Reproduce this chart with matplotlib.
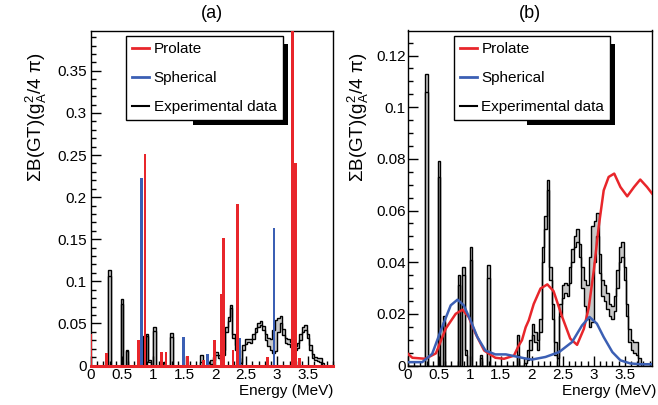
import numpy as np
import matplotlib
matplotlib.use('Agg')
import matplotlib.pyplot as plt
from matplotlib.ticker import MultipleLocator, FuncFormatter
from matplotlib.patches import Rectangle
from matplotlib.lines import Line2D

plt.rcParams['font.family'] = ['Liberation Sans', 'DejaVu Sans']
plt.rcParams['mathtext.fontset'] = 'custom'
plt.rcParams['mathtext.rm'] = 'Liberation Sans'
plt.rcParams['mathtext.it'] = 'Liberation Sans:italic'

RED = '#e8262b'
BLUE = '#3b5fb4'
GRAY = '#c8c8c8'

# experimental B(GT), 0.04 MeV bins: left edge, lower and upper bound
bin_width = 0.04
exp_left = [0.28, 0.48, 0.56, 0.80, 0.88, 0.92, 1.00, 1.16, 1.28, 1.76,
            1.88, 1.92, 1.96, 2.00, 2.04, 2.08, 2.12, 2.16, 2.20, 2.24,
            2.28, 2.32, 2.36, 2.40, 2.44, 2.48, 2.52, 2.56, 2.60, 2.64,
            2.68, 2.72, 2.76, 2.80, 2.84, 2.88, 2.92, 2.96, 3.00, 3.04,
            3.08, 3.12, 3.16, 3.20, 3.24, 3.28, 3.32, 3.36, 3.40, 3.44,
            3.48, 3.52, 3.56, 3.60, 3.64, 3.68, 3.72]
exp_low = [0.106, 0.073, 0.017, 0.031, 0.035, 0.004, 0.041, 0.003, 0.034, 0.004,
           0.001, 0.002, 0.006, 0.012, 0.009, 0.006, 0.013, 0.040, 0.053, 0.068,
           0.033, 0.018, 0.004, 0.000, 0.019, 0.026, 0.028, 0.027, 0.032, 0.040,
           0.046, 0.048, 0.042, 0.030, 0.023, 0.018, 0.015, 0.017, 0.040, 0.050,
           0.036, 0.027, 0.025, 0.022, 0.019, 0.018, 0.021, 0.030, 0.040, 0.042,
           0.033, 0.019, 0.009, 0.006, 0.005, 0.004, 0.000]
exp_high = [0.113, 0.079, 0.019, 0.035, 0.038, 0.006, 0.046, 0.004, 0.039, 0.012,
            0.003, 0.006, 0.010, 0.016, 0.013, 0.010, 0.018, 0.046, 0.058, 0.072,
            0.038, 0.024, 0.009, 0.003, 0.024, 0.031, 0.032, 0.031, 0.038, 0.045,
            0.050, 0.053, 0.047, 0.038, 0.033, 0.031, 0.042, 0.054, 0.056, 0.059,
            0.043, 0.033, 0.031, 0.028, 0.024, 0.023, 0.027, 0.037, 0.046, 0.048,
            0.038, 0.024, 0.014, 0.010, 0.009, 0.009, 0.003]

# (a) discrete strengths
prolate_E = [0.00, 0.25, 0.76, 0.87, 1.14, 1.21, 1.55, 1.81, 1.99, 2.10,
             2.14, 2.29, 2.36, 2.85, 3.25, 3.29, 3.36]
prolate_B = [0.037, 0.015, 0.030, 0.251, 0.016, 0.016, 0.011, 0.006, 0.030, 0.085,
             0.151, 0.018, 0.192, 0.010, 0.45, 0.241, 0.009]
spherical_E = [0.81, 1.49, 1.88, 2.40, 2.95]
spherical_B = [0.223, 0.034, 0.014, 0.033, 0.163]

# (b) folded strengths
prolate_curve_E = [0.00, 0.07, 0.28, 0.45, 0.61, 0.77, 0.88, 0.98, 1.09, 1.23,
                   1.41, 1.55, 1.71, 1.79, 1.84, 1.90, 1.95, 2.03, 2.14, 2.25,
                   2.35, 2.49, 2.62, 2.73, 2.84, 2.92, 3.00, 3.08, 3.16, 3.24,
                   3.33, 3.43, 3.54, 3.65, 3.75, 3.86, 3.94]
prolate_curve_B = [0.0045, 0.0030, 0.0026, 0.0047, 0.0143, 0.0200, 0.0216, 0.0188, 0.0124, 0.0058,
                   0.0030, 0.0026, 0.0038, 0.0078, 0.0098, 0.0148, 0.0175, 0.0238, 0.0298, 0.0314,
                   0.0288, 0.0188, 0.0104, 0.0080, 0.0142, 0.0226, 0.0368, 0.0538, 0.0678, 0.0730,
                   0.0743, 0.0691, 0.0655, 0.0691, 0.0720, 0.0691, 0.0666]
spherical_curve_E = [0.00, 0.23, 0.39, 0.55, 0.69, 0.80, 0.90, 1.01, 1.12, 1.25,
                     1.41, 1.58, 1.74, 1.92, 2.00, 2.22, 2.44, 2.65, 2.81, 2.93,
                     3.05, 3.16, 3.30, 3.43, 3.59, 3.75, 3.94]
spherical_curve_B = [0.0013, 0.0013, 0.0045, 0.0148, 0.0233, 0.0255, 0.0233, 0.0175, 0.0110, 0.0058,
                     0.0043, 0.0043, 0.0035, 0.0026, 0.0023, 0.0033, 0.0052, 0.0091, 0.0155, 0.0188,
                     0.0162, 0.0110, 0.0052, 0.0020, 0.0008, 0.0005, 0.0005]

W, H = 658, 405
fig = plt.figure(figsize=(W / 100, H / 100), dpi=100)


def px_axes(l, t, r, b):
    return fig.add_axes([l / W, 1 - b / H, (r - l) / W, (b - t) / H])


def fmt_g(v, pos):
    return '%g' % round(v, 4)


def draw_exp(ax):
    edges = np.arange(0, 4.0 + 1e-9, bin_width)
    idx = np.rint(np.array(exp_left) / bin_width).astype(int)
    lo = np.zeros(len(edges) - 1)
    hi = np.zeros(len(edges) - 1)
    lo[idx] = exp_low
    hi[idx] = exp_high
    ax.fill_between(edges, np.append(lo, lo[-1]), np.append(hi, hi[-1]),
                    step='post', color=GRAY, lw=0, zorder=2)
    ax.stairs(hi, edges, color='k', lw=1.0, zorder=3)
    ax.stairs(lo, edges, color='k', lw=1.0, zorder=3)


def style_axes(ax, ymajor, yminor, ypad):
    ax.xaxis.set_major_locator(MultipleLocator(0.5))
    ax.xaxis.set_minor_locator(MultipleLocator(0.1))
    ax.yaxis.set_major_locator(MultipleLocator(ymajor))
    ax.yaxis.set_minor_locator(MultipleLocator(yminor))
    ax.xaxis.set_major_formatter(FuncFormatter(fmt_g))
    ax.yaxis.set_major_formatter(FuncFormatter(fmt_g))
    ax.tick_params(which='both', direction='in', top=False, right=False, width=1)
    ax.tick_params(which='major', length=7, labelsize=11)
    ax.tick_params(which='minor', length=3.5)
    ax.tick_params(axis='x', pad=2)
    ax.tick_params(axis='y', pad=ypad)
    for s in ax.spines.values():
        s.set_linewidth(1)


def add_legend(ax, x0):
    handles = [Line2D([], [], color=RED, lw=2),
               Line2D([], [], color=BLUE, lw=2),
               Line2D([], [], color='k', lw=1.5)]
    leg = ax.legend(handles, ['Prolate', 'Spherical', 'Experimental data'],
                    loc='upper left', bbox_to_anchor=(x0, 0.984), fontsize=11,
                    handlelength=1.1, handletextpad=0.3, labelspacing=0.98,
                    borderpad=0.4, borderaxespad=0, fancybox=False,
                    framealpha=1, edgecolor='k')
    leg.get_frame().set_linewidth(1)
    leg.set_zorder(6)
    return leg


def add_shadow(ax, leg, shift_left):
    # ROOT style box shadow, drawn behind the legend frame
    bb = leg.get_window_extent()
    x0, x1 = bb.x0 + shift_left, bb.x1 + 5
    y0, y1 = bb.y0 - 5, bb.y1 - 8
    ax.add_patch(Rectangle((x0 / W, y0 / H), (x1 - x0) / W, (y1 - y0) / H,
                           transform=fig.transFigure, facecolor='k',
                           edgecolor='none', zorder=5.5, clip_on=False))


# panel (a)
axa = px_axes(91, 30.5, 333, 365.5)
draw_exp(axa)
axa.bar(prolate_E, prolate_B, width=0.045, color=RED, lw=0, zorder=4)
axa.bar(spherical_E, spherical_B, width=0.045, color=BLUE, lw=0, zorder=4)
axa.axhline(0, color=RED, lw=2.2, zorder=5, clip_on=False)
axa.set_xlim(0, 3.9)
axa.set_ylim(0, 0.398)
style_axes(axa, 0.05, 0.01, 3)
lega = add_legend(axa, 0.145)

# panel (b)
axb = px_axes(408, 30.5, 652, 365.5)
draw_exp(axb)
axb.plot(prolate_curve_E, prolate_curve_B, color=RED, lw=1.8, zorder=4)
axb.plot(spherical_curve_E, spherical_curve_B, color=BLUE, lw=1.8, zorder=4)
axb.set_xlim(0, 3.94)
axb.set_ylim(0, 0.1297)
style_axes(axb, 0.02, 0.005, 1.5)
legb = add_legend(axb, 0.1885)

ylabel = u'\u03a3B(GT)(g$_{\\rm A}^{\\rm 2}$/4 \u03c0)'
for xl, xr, title, xt in [(36, 333, '(a)', 212), (358, 656, '(b)', 530)]:
    fig.text(xl / W, 1 - 52 / H, ylabel, rotation=90, ha='center', va='top', fontsize=13.5)
    fig.text(xr / W, 1 - 391 / H, 'Energy (MeV)', ha='right', va='center', fontsize=11)
    fig.text(xt / W, 1 - 14 / H, title, ha='center', va='center', fontsize=13)

fig.canvas.draw()
add_shadow(axa, lega, 67)
add_shadow(axb, legb, 73)

fig.savefig('out.png', dpi=100)
